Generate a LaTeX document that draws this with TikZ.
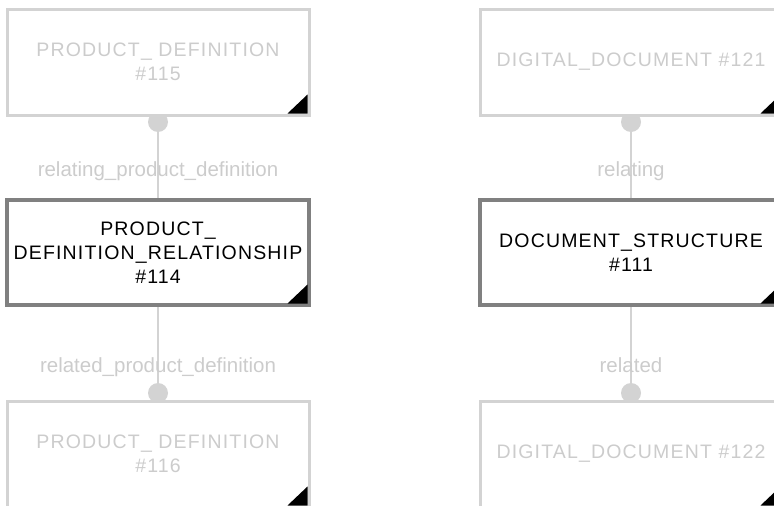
\documentclass[tikz,border=0pt]{standalone}
\usepackage{fontspec}
\setmainfont{Liberation Sans}
\newfontfamily\titlefont[LetterSpace=6]{Liberation Sans}
\usetikzlibrary{positioning,backgrounds}
\definecolor{faint}{HTML}{D3D3D3}
\definecolor{fainttext}{HTML}{CCCCCC}
\definecolor{frame}{HTML}{808080}
\tikzset{ent/.style={rectangle,draw=faint,line width=3pt,fill=white,minimum width=302pt,minimum height=106pt,inner sep=0pt,outer sep=0pt,align=center,text=fainttext,font=\titlefont\fontsize{19.5}{24}\selectfont},
  mainent/.style={ent,draw=frame,line width=3.5pt,minimum height=105pt,text=black},
  role/.style={anchor=base,text=fainttext,font=\fontsize{20.5}{24}\selectfont},
  dot/.style={circle,fill=faint,minimum size=20pt,inner sep=0pt,outer sep=0pt},
  link/.style={draw=faint,line width=1.5pt}}
\newcommand{\corner}[1]{\fill[black] ([shift={(-1.5pt,1.5pt)}]#1.south east) -- ++(-20pt,0pt) -- ++(20pt,19pt) -- cycle;}

\begin{document}
\begin{tikzpicture}[x=1pt,y=-1pt]
    \useasboundingbox (0,0) rectangle (774,506);
    % circles first, boxes cover them
    \node[dot] (d115) at (158,122) {};
    \node[dot] (d116) at (158,393) {};
    \node[dot] (d121) at (631,122) {};
    \node[dot] (d122) at (631,393) {};

    \node[ent] (p115) at (158,62) {PRODUCT\_ DEFINITION\\\#115};
    \node[mainent] (p114) at (158,252.5) {PRODUCT\_\\DEFINITION\_RELATIONSHIP\\\#114};
    \node[ent] (p116) at (158,454) {PRODUCT\_ DEFINITION\\\#116};
    \node[ent] (g121) at (631,62) {DIGITAL\_DOCUMENT \#121};
    \node[mainent] (s111) at (631,252.5) {DOCUMENT\_STRUCTURE\\\#111};
    \node[ent] (g122) at (631,454) {DIGITAL\_DOCUMENT \#122};

    \corner{p115} \corner{p114} \corner{p116}
    \corner{g121} \corner{s111} \corner{g122}

    \node[role] (r1) at (158,176) {relating\_product\_definition};
    \node[role] (r2) at (158,372) {related\_product\_definition};
    \node[role] (r3) at (631,176) {relating};
    \node[role] (r4) at (631,372) {related};

    \begin{pgfonlayer}{background}
        \draw [link] (d115) -- (p114);
        \draw [link] (p114) -- (d116);
        \draw [link] (d121) -- (s111);
        \draw [link] (s111) -- (d122);
    \end{pgfonlayer}
\end{tikzpicture}
\end{document}
